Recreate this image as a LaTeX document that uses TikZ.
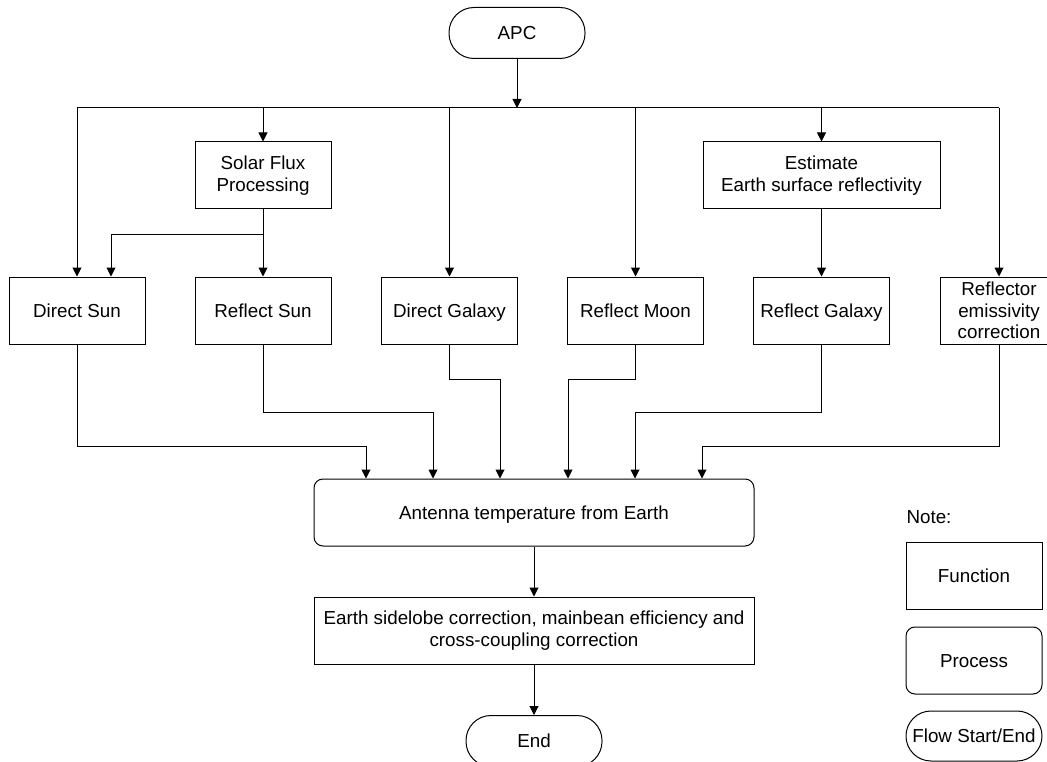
\documentclass[tikz,border=0pt]{standalone}
\usepackage{fontspec}
\setmainfont{Liberation Sans}
\usepackage{tikz}
\usetikzlibrary{positioning,arrows.meta}

\begin{document}
\begin{tikzpicture}[x=1pt,y=-1pt,line width=1pt,
    font=\fontsize{18.8}{21.7}\selectfont,
    func/.style={draw,minimum width=136pt,minimum height=67pt,inner sep=0pt,align=center},
    proc/.style={func,rounded corners=9pt},
    term/.style={func,rounded corners=25pt,minimum height=51pt},
    one/.style={text height=13.5pt,text depth=0pt},
    arr/.style={-{Triangle[width=9pt,length=9pt]}}]
            \useasboundingbox (0,0) rectangle (1047,762);
            \node[term,one] (apc) at (517,33) {APC};
            \node[func] (sfp) at (263,175.5) {Solar Flux\\Processing};
            \node[func,minimum width=237pt] (est) at (821.5,175.5) {Estimate\\Earth surface reflectivity};
            \node[func,one] (dsun) at (77,310.5) {Direct Sun};
            \node[func,one] (rsun) at (263,310.5) {Reflect Sun};
            \node[func,one] (dgal) at (449.5,310.5) {Direct Galaxy};
            \node[func,one] (rmoon) at (635.5,310.5) {Reflect Moon};
            \node[func,one] (rgal) at (821.5,310.5) {Reflect Galaxy};
            \node[func,minimum width=118pt] (refl) at (999,310.5) {Reflector\\emissivity\\correction};
            \node[proc,one,minimum width=440pt] (ant) at (534,512.5) {Antenna temperature from Earth};
            \node[func,minimum width=440pt] (esc) at (534,630.5) {Earth sidelobe correction, mainbean efficiency and\\cross-coupling correction};
            \node[term,one] (endn) at (534,741) {End};
            \node[anchor=west,inner sep=0pt,one] (note) at (906,517) {Note:};
            \node[func,one] (fun) at (974,575.5) {Function};
            \node[proc,one] (prc) at (974,660.5) {Process};
            \node[term,one,minimum height=50pt] (flow) at (974,736) {Flow Start/End};
            \coordinate (busl) at (77,108);
            \coordinate (busr) at (999,108);
            \coordinate (sfj) at (263,235);
            \draw [arr](apc.south)--(apc.south |- busl);
            \draw (busl)--(busr);
            \draw [arr](busl)--(dsun.north);
            \draw [arr](sfp.north |- busl)--(sfp.north);
            \draw [arr](dgal.north |- busl)--(dgal.north);
            \draw [arr](rmoon.north |- busl)--(rmoon.north);
            \draw [arr](est.north |- busl)--(est.north);
            \draw [arr](busr)--(refl.north);
            \draw [arr](sfp.south)--(rsun.north);
            \draw [arr](sfj)-|([xshift=34pt]dsun.north);
            \draw [arr](est.south)--(rgal.north);
            \draw [arr](dsun.south)--++(0,102)-|([xshift=-168pt]ant.north);
            \draw [arr](rsun.south)--++(0,68)-|([xshift=-101pt]ant.north);
            \draw [arr](dgal.south)--++(0,35)-|([xshift=-34pt]ant.north);
            \draw [arr](rmoon.south)--++(0,35)-|([xshift=34pt]ant.north);
            \draw [arr](rgal.south)--++(0,68)-|([xshift=101pt]ant.north);
            \draw [arr](refl.south)--++(0,102)-|([xshift=168pt]ant.north);
            \draw [arr](ant.south)--(esc.north);
            \draw [arr](esc.south)--(endn.north);
\end{tikzpicture}
\end{document}
